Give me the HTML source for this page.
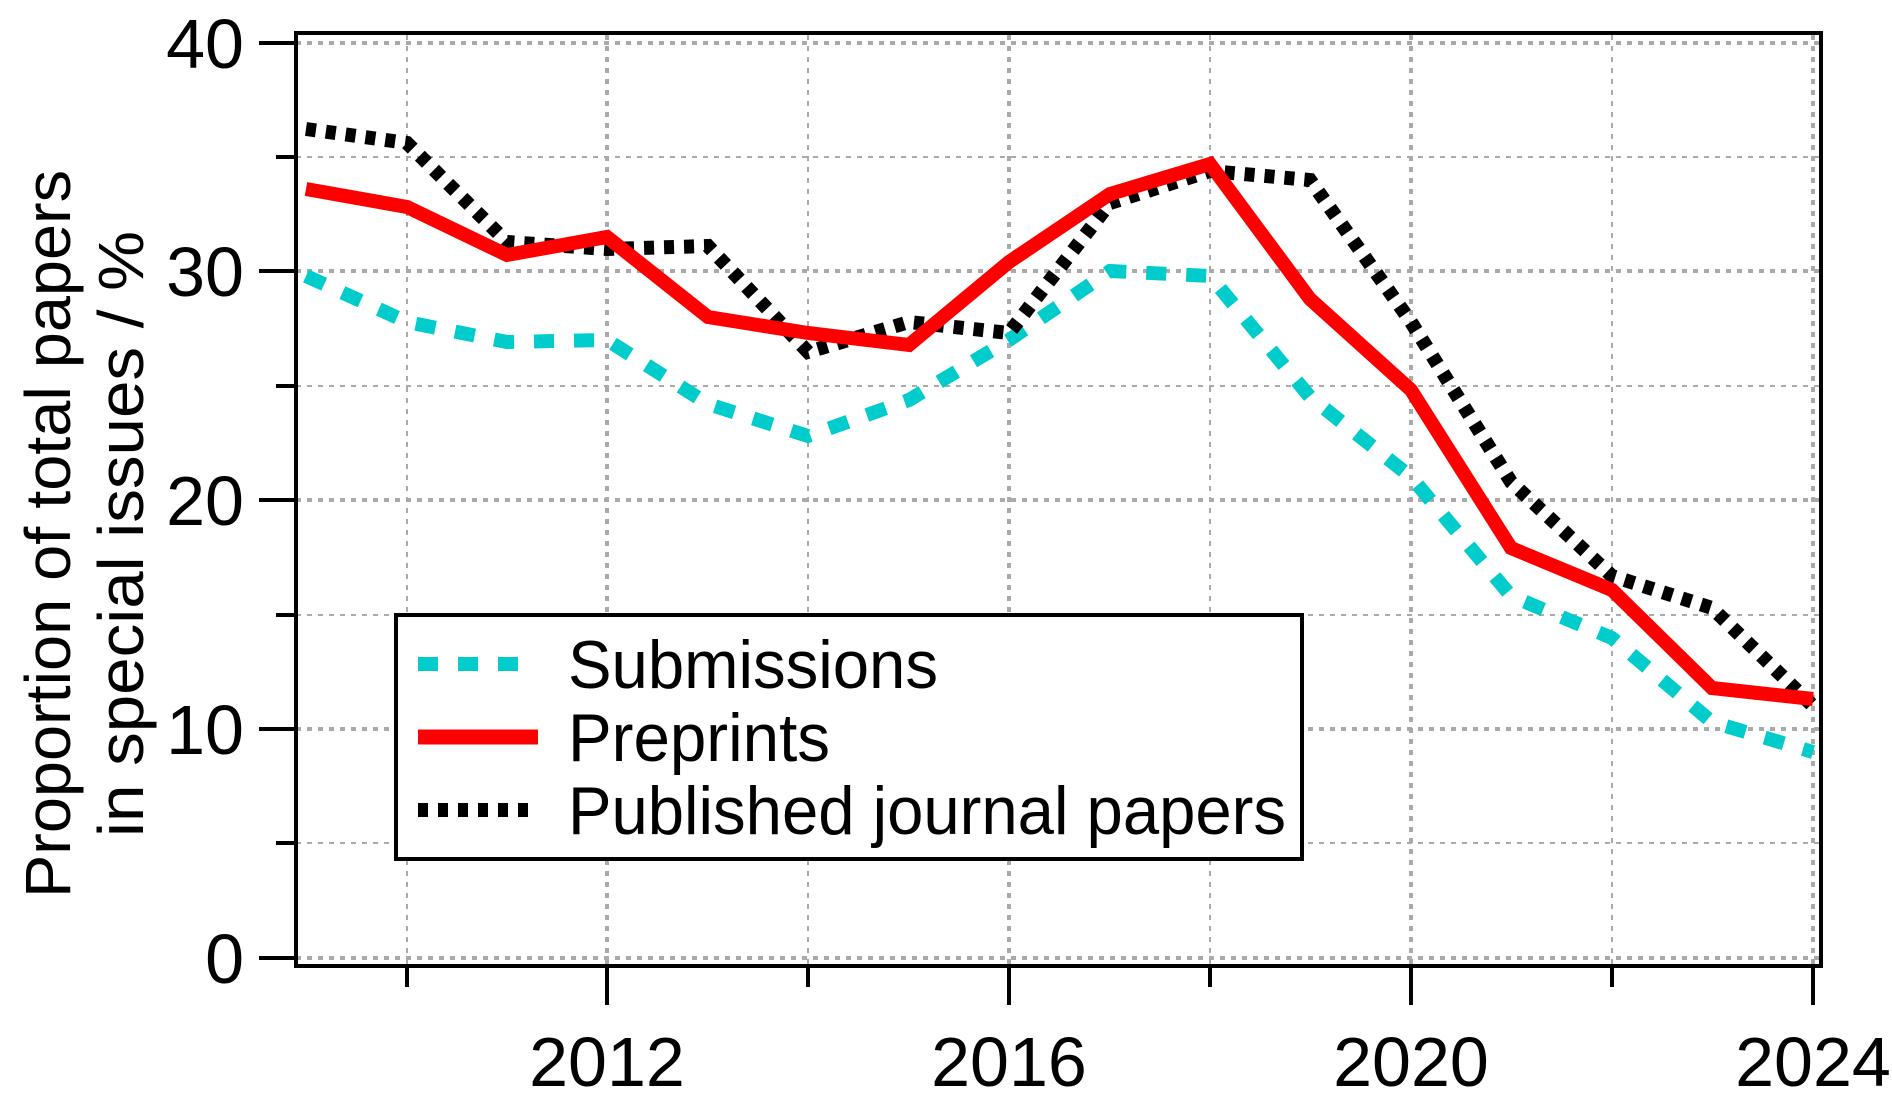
<!DOCTYPE html>
<html><head><meta charset="utf-8"><style>html,body{margin:0;padding:0;background:#fff}svg{display:block}</style></head>
<body>
<svg width="1892" height="1102" viewBox="0 0 1892 1102" xmlns="http://www.w3.org/2000/svg" font-family="Liberation Sans, Arial, sans-serif">
<rect width="1892" height="1102" fill="#fff"/>
<g stroke="#aaa" fill="none">
  <g stroke-width="4" stroke-dasharray="5,6">
    <line x1="296" y1="958" x2="1821" y2="958"/>
    <line x1="296" y1="729" x2="1821" y2="729"/>
    <line x1="296" y1="500" x2="1821" y2="500"/>
    <line x1="296" y1="271" x2="1821" y2="271"/>
    <line x1="296" y1="43" x2="1821" y2="43"/>
    <line x1="607" y1="35" x2="607" y2="965"/>
    <line x1="1009" y1="35" x2="1009" y2="965"/>
    <line x1="1411" y1="35" x2="1411" y2="965"/>
    <line x1="1813" y1="35" x2="1813" y2="965"/>
  </g>
  <g stroke-width="2" stroke-dasharray="5,6">
    <line x1="296" y1="843" x2="1821" y2="843"/>
    <line x1="296" y1="615" x2="1821" y2="615"/>
    <line x1="296" y1="386" x2="1821" y2="386"/>
    <line x1="296" y1="157" x2="1821" y2="157"/>
    <line x1="407" y1="35" x2="407" y2="965"/>
    <line x1="808" y1="35" x2="808" y2="965"/>
    <line x1="1210" y1="35" x2="1210" y2="965"/>
    <line x1="1612" y1="35" x2="1612" y2="965"/>
  </g>
</g>
<g fill="none" stroke-linejoin="miter">
<polyline stroke="#00cccc" stroke-width="14" stroke-dasharray="20,20" points="306,276 407,322 507,342 607,340 708,404 808,436 909,400 1009,340 1110,271 1210,276 1310,397 1411,477 1511,596 1612,638 1712,722 1813,752"/>
<polyline stroke="#000" stroke-width="14" stroke-dasharray="10,10" points="306,129 407,143 507,242 607,249 708,246 808,352 909,322 1009,333 1110,203 1210,171 1310,180 1411,322 1511,482 1612,576 1712,608 1813,706"/>
<polyline stroke="#ff0000" stroke-width="14" points="306,189 407,207 507,255 607,237 708,317 808,333 909,345 1009,262 1110,194 1210,164 1310,299 1411,390 1511,548 1612,590 1712,688 1813,699"/>
</g>
<g stroke="#000" stroke-width="4" fill="none">
  <rect x="296" y="33" width="1525" height="933"/>
  <line x1="259" y1="958" x2="296" y2="958"/>
  <line x1="259" y1="729" x2="296" y2="729"/>
  <line x1="259" y1="500" x2="296" y2="500"/>
  <line x1="259" y1="271" x2="296" y2="271"/>
  <line x1="259" y1="43" x2="296" y2="43"/>
  <line x1="276" y1="843" x2="296" y2="843"/>
  <line x1="276" y1="615" x2="296" y2="615"/>
  <line x1="276" y1="386" x2="296" y2="386"/>
  <line x1="276" y1="157" x2="296" y2="157"/>
  <line x1="607" y1="966" x2="607" y2="1005"/>
  <line x1="1009" y1="966" x2="1009" y2="1005"/>
  <line x1="1411" y1="966" x2="1411" y2="1005"/>
  <line x1="1813" y1="966" x2="1813" y2="1005"/>
  <line x1="407" y1="966" x2="407" y2="987"/>
  <line x1="808" y1="966" x2="808" y2="987"/>
  <line x1="1210" y1="966" x2="1210" y2="987"/>
  <line x1="1612" y1="966" x2="1612" y2="987"/>
</g>
<g font-size="70" fill="#000" text-anchor="end">
  <text x="244" y="983">0</text>
  <text x="244" y="754">10</text>
  <text x="244" y="525">20</text>
  <text x="244" y="296">30</text>
  <text x="244" y="68">40</text>
</g>
<g font-size="70" fill="#000" text-anchor="middle">
  <text x="607" y="1086">2012</text>
  <text x="1009" y="1086">2016</text>
  <text x="1411" y="1086">2020</text>
  <text x="1813" y="1086">2024</text>
</g>
<g font-size="64" fill="#000" text-anchor="middle">
  <text transform="translate(70,534) rotate(-90)" textLength="728" lengthAdjust="spacingAndGlyphs">Proportion of total papers</text>
  <text transform="translate(143,534) rotate(-90)" textLength="606" lengthAdjust="spacingAndGlyphs">in special issues / %</text>
</g>
<rect x="396" y="615" width="906" height="244" fill="#fff" stroke="#000" stroke-width="4"/>
<line x1="418" y1="664" x2="538" y2="664" stroke="#00cccc" stroke-width="14" stroke-dasharray="20,20"/>
<line x1="418" y1="737" x2="538" y2="737" stroke="#ff0000" stroke-width="15"/>
<line x1="418" y1="810" x2="530" y2="810" stroke="#000" stroke-width="14" stroke-dasharray="10,10"/>
<g font-size="68" fill="#000">
  <text x="568" y="688" textLength="370" lengthAdjust="spacingAndGlyphs">Submissions</text>
  <text x="568" y="761" textLength="262" lengthAdjust="spacingAndGlyphs">Preprints</text>
  <text x="568" y="834" textLength="718" lengthAdjust="spacingAndGlyphs">Published journal papers</text>
</g>
</svg>
</body></html>
